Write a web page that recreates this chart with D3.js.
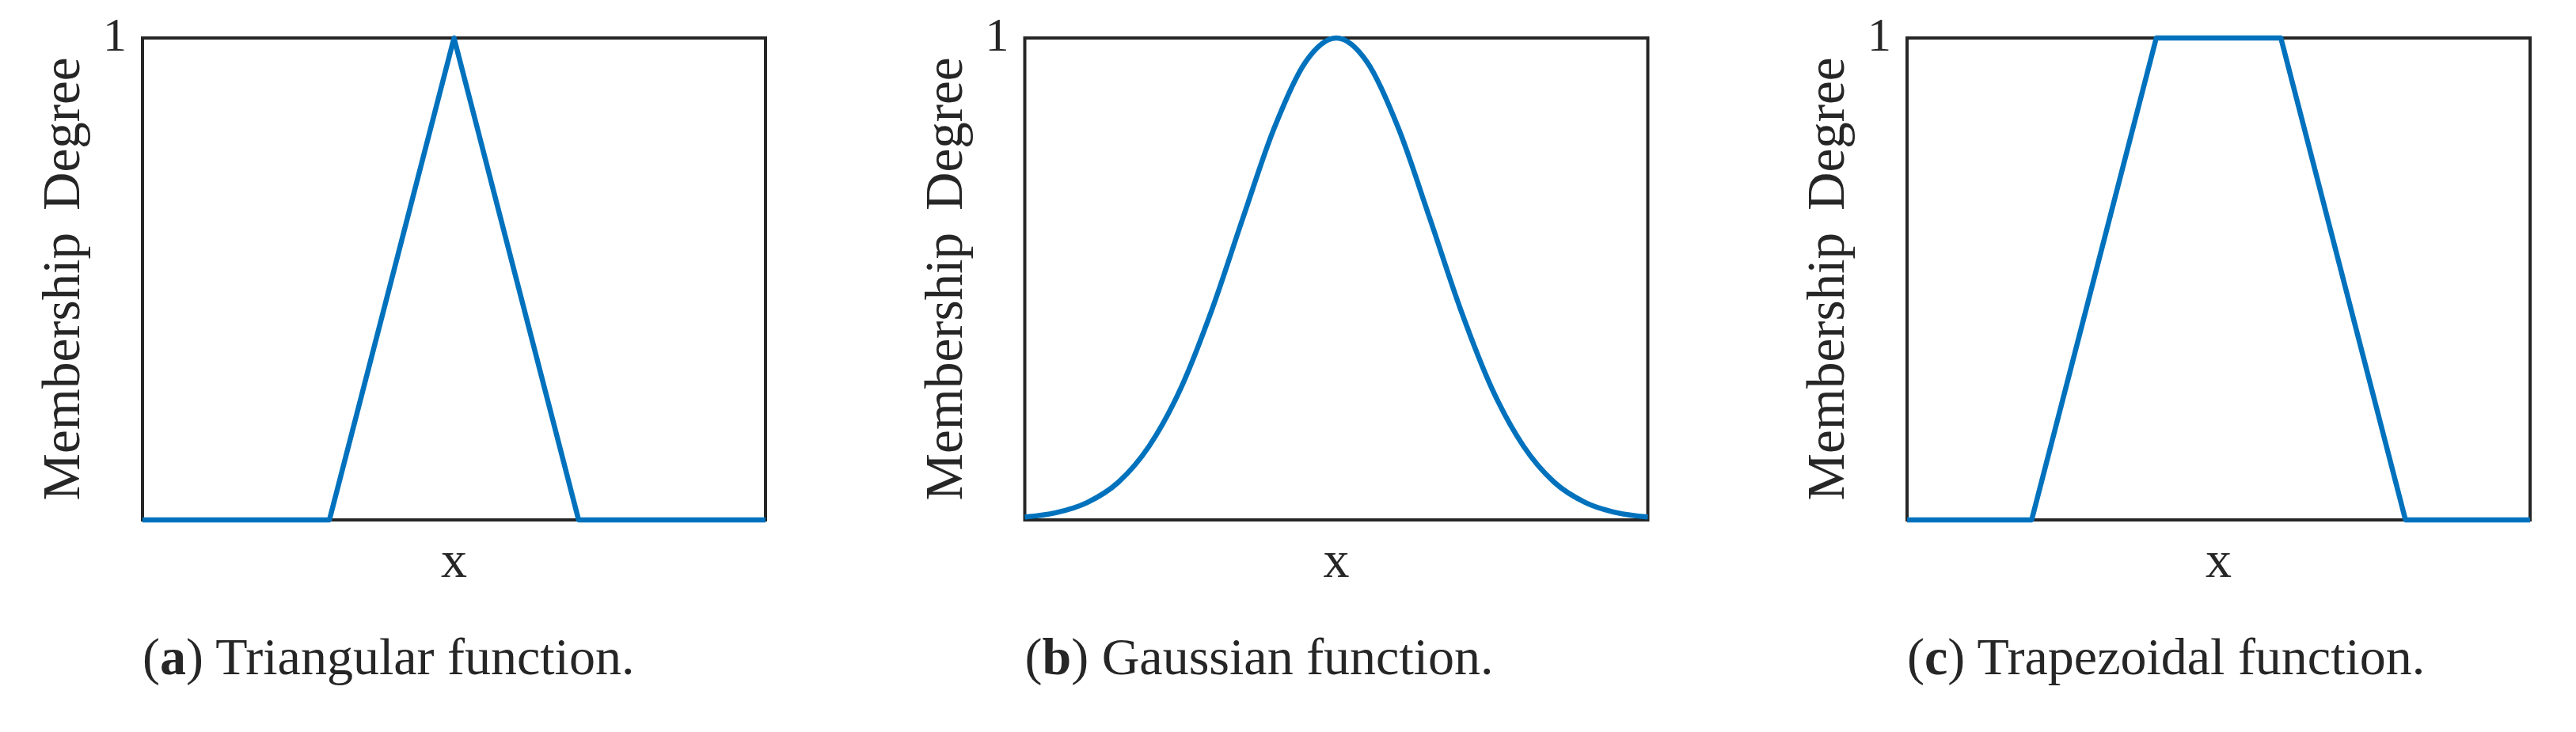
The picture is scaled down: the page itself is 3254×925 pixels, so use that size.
<!DOCTYPE html>
<html lang="en">
<head>
    <meta charset="UTF-8">
    <title>Membership functions</title>
    <style>
        body, html {
            margin: 0;
            padding: 0;
            background: #fff;
            overflow: hidden;
        }
        svg text {
            font-family: "Liberation Serif", "DejaVu Serif", serif;
            fill: #262626;
        }
    </style>
</head>
<body>
    <script src="https://d3js.org/d3.v7.min.js"></script>
    <script>
        // Data (x runs 0..10, membership 0..1)
        var triX = [0, 3, 5, 7, 10];
        var triY = [0, 0, 1, 0, 0];

        var gaussX = [0, 0.5, 1, 1.5, 2, 2.5, 3, 3.5, 4, 4.5, 5, 5.5, 6, 6.5, 7, 7.5, 8, 8.5, 9, 9.5, 10];
        var gaussY = [0.006, 0.015, 0.036, 0.078, 0.154, 0.272, 0.435, 0.626, 0.812, 0.949, 1,
                      0.949, 0.812, 0.626, 0.435, 0.272, 0.154, 0.078, 0.036, 0.015, 0.006];

        var trapX = [0, 2, 4, 6, 8, 10];
        var trapY = [0, 0, 1, 1, 0, 0];

        var yTicks = [1];
        var panelKeys = ["a", "b", "c"];
        var captionText = ["Triangular function.", "Gaussian function.", "Trapezoidal function."];
        var xLabel = "x";
        var yLabelWords = ["Membership", "Degree"];

        var width = 3254;
        var height = 925;

        var svg = d3.select("body")
            .append("svg")
            .attr("width", width)
            .attr("height", height);

        // panel layout
        var boxW = 787, boxH = 609, boxTop = 48;
        var panelX = d3.scalePoint().domain(panelKeys).range([180, 2409]);

        var x = d3.scaleLinear().domain([0, 10]).range([0, boxW]);
        var y = d3.scaleLinear().domain([0, 1]).range([boxH, 0]);

        var line = d3.line()
            .x(function(d) { return x(d[0]); })
            .y(function(d) { return y(d[1]); });

        var series = [
            { xs: triX, ys: triY, curve: d3.curveLinear },
            { xs: gaussX, ys: gaussY, curve: d3.curveMonotoneX },
            { xs: trapX, ys: trapY, curve: d3.curveLinear }
        ];

        panelKeys.forEach(function(key, i) {
            var g = svg.append("g")
                .attr("transform", "translate(" + panelX(key) + "," + boxTop + ")");

            // y axis: only the "1" tick label
            var yAxis = d3.axisLeft(y).tickValues(yTicks).tickSize(0).tickPadding(20)
                .tickFormat(d3.format("d"));
            var ax = g.append("g").call(yAxis);
            ax.select(".domain").remove();
            ax.selectAll("text")
                .attr("font-size", 60)
                .attr("dy", "0.25em")
                .attr("fill", "#262626");

            // frame
            g.append("rect")
                .attr("width", boxW)
                .attr("height", boxH)
                .attr("fill", "none")
                .attr("stroke", "#262626")
                .attr("stroke-width", 4);

            // curve
            var s = series[i];
            var pts = s.xs.map(function(v, j) { return [v, s.ys[j]]; });
            g.append("path")
                .attr("d", line.curve(s.curve)(pts))
                .attr("fill", "none")
                .attr("stroke", "#0072BD")
                .attr("stroke-width", 6.5)
                .attr("stroke-linejoin", "round");

            // axis labels
            g.append("text")
                .attr("x", boxW / 2)
                .attr("y", 681)
                .attr("text-anchor", "middle")
                .attr("font-size", 66)
                .text(xLabel);

            var yl = g.append("text")
                .attr("transform", "translate(-80," + boxH / 2 + ") rotate(-90)")
                .attr("text-anchor", "middle")
                .attr("font-size", 67);
            yl.append("tspan").text(yLabelWords[0]);
            yl.append("tspan").attr("dx", 28).text(yLabelWords[1]);

            // caption
            var cap = g.append("text")
                .attr("x", 0)
                .attr("y", 804)
                .attr("font-size", 66);
            cap.append("tspan").text("(");
            cap.append("tspan").attr("font-weight", "bold").text(key);
            cap.append("tspan").text(") " + captionText[i]);
        });
    </script>
</body>
</html>
